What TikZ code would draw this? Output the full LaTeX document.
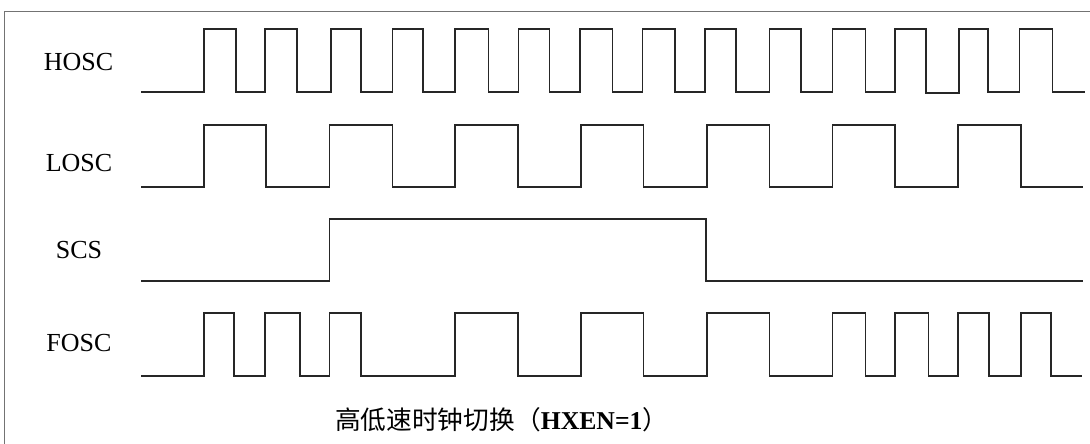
\documentclass[tikz,border=0pt]{standalone}
\usepackage{fontspec}
\setmainfont{Liberation Serif}
\newfontfamily\cjk{Noto Sans CJK SC}
\begin{document}
\begin{tikzpicture}[x=1pt,y=-1pt,
  sig/.style={line width=1.6pt,color=black!85,line join=miter},
  frame/.style={line width=0.9pt,color=black!55},
  lbl/.style={font=\fontsize{26}{28}\selectfont,inner sep=0pt}]
\useasboundingbox (0,0) rectangle (1090,444);
\fill[white] (0,0) rectangle (1090,444);
\draw[frame] (4,444) -- (4,11) -- (1090,11);
% labels
\node[lbl] (hosc) at (78.5,62) {HOSC};
\node[lbl] (losc) at (79,163) {LOSC};
\node[lbl] (scs) at (79,250) {SCS};
\node[lbl] (fosc) at (79,343) {FOSC};
% HOSC
\draw[sig] (141,92) -| (204,29) -| (235.7,92) -| (265,29) -| (296.7,92)
  -| (331,29) -| (361,92) -| (392.3,29) -| (422.7,92) -| (455,29) -| (488.3,92)
  -| (518.3,29) -| (549.3,92) -| (580,29) -| (612.3,92) -| (642.3,29) -| (675,92)
  -| (705,29) -| (736,92) -| (769.3,29) -| (800.7,92) -| (832.3,29) -| (865.3,92)
  -| (895,29) -| (926,92.7) -| (959,29) -| (987.7,92) -| (1019.3,29) -| (1052.3,92)
  -- (1085,92);
% LOSC
\draw[sig] (141,187) -| (204,125) -| (266,187) -| (329.3,125) -| (392.3,187)
  -| (455,125) -| (517.7,187) -| (581,125) -| (643.3,187) -| (706.7,125)
  -| (769.3,187) -| (832.3,125) -| (895,187) -| (957.7,125) -| (1020.7,187)
  -- (1083,187);
% SCS
\draw[sig] (141,281) -| (329.3,219) -| (706,281) -- (1083,281);
% FOSC
\draw[sig] (141,376) -| (204,313) -| (234,376) -| (265,313) -| (300,376)
  -| (329.3,313) -| (361,376) -| (455,313) -| (517.7,376) -| (581,313)
  -| (643.3,376) -| (706.7,313) -| (769.3,376) -| (832.3,313) -| (865.3,376)
  -| (895,313) -| (928.3,376) -| (957.7,313) -| (989,376) -| (1020.7,313)
  -| (1050.7,376) -- (1082,376);
% caption
\node[inner sep=0pt,font=\fontsize{25.7}{28}\selectfont] (cap) at (501.7,420)
  {{\cjk 高低速时钟切换（}\textbf{HXEN=1}{\cjk ）}};
\end{tikzpicture}
\end{document}
